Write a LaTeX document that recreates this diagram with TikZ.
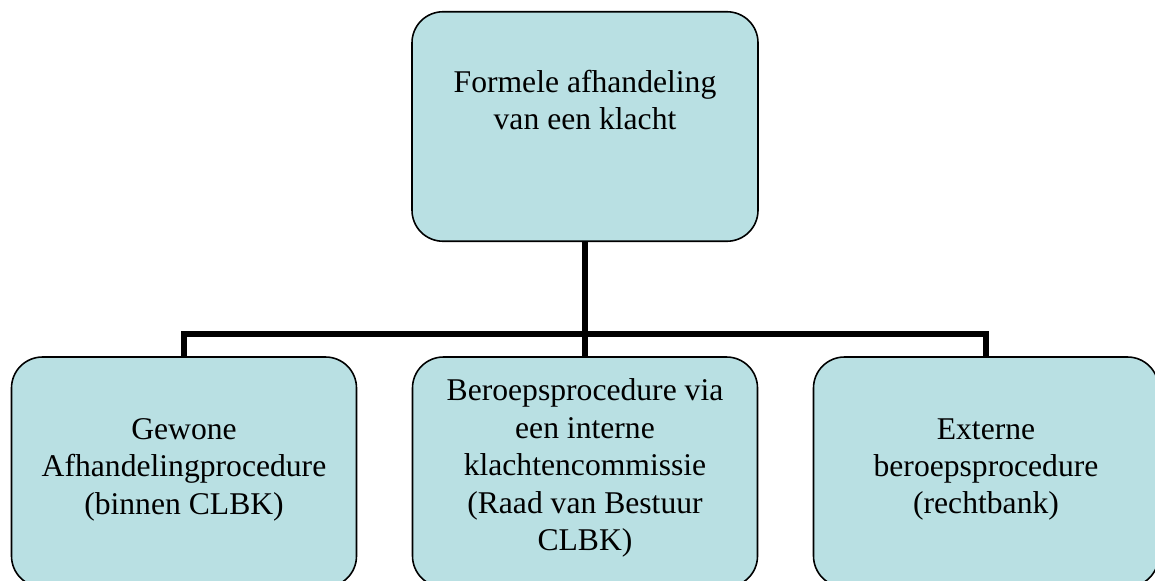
\documentclass[tikz,border=0pt]{standalone}
\usepackage{fontspec}
\setmainfont{Liberation Serif}
\usetikzlibrary{positioning}
\definecolor{boxblue}{RGB}{185,224,227}
\tikzset{%
  % Specifications for style of nodes:
	base/.style = {draw=black, line width=0.9pt, rounded corners=6.2mm,
	               fill=boxblue, inner sep=0pt, on grid},
	topbox/.style = {base, minimum width=6.92cm, minimum height=4.59cm},
	subbox/.style = {base, minimum width=6.9cm, minimum height=4.6cm},
	txt/.style = {align=center, inner sep=0pt,
	              font=\fontsize{18}{21.3}\selectfont},
	tree/.style = {draw, black, line width=2.9pt, line join=miter},
}
\begin{document}
\begin{tikzpicture}[
node distance=6.91cm and 8.02cm, % Global setup of box spacing
]
  \useasboundingbox (0,0) rectangle (23.1,-11.6);
  % Specification of nodes (position, etc.)
  \node (top) [topbox] at (11.70,-2.53) {};
  \node (mid) [subbox, below=of top] {};
  \node (gewoon) [subbox, left=of mid] {};
  \node (extern) [subbox, right=of mid] {};

  % connectors
  \draw [tree] (top.south) -- ++(0,-1.84) coordinate (split);
  \draw [tree] (gewoon.north) |- (split) -| (extern.north);
  \draw [tree] (split) -- (mid.north);

  % texts
  \node (topT) [txt] at ([yshift=5.3mm]top.center) {Formele afhandeling\\van een klacht};
  \node (gewoonT) [txt] at ([yshift=0.5mm]gewoon.center) {Gewone\\Afhandelingprocedure\\(binnen CLBK)};
  \node (midT) [txt] at ([yshift=0.8mm]mid.center) {Beroepsprocedure via\\een interne\\klachtencommissie\\(Raad van Bestuur\\CLBK)};
  \node (externT) [txt] at ([yshift=0.5mm]extern.center) {Externe\\beroepsprocedure\\(rechtbank)};
\end{tikzpicture}
\end{document}
